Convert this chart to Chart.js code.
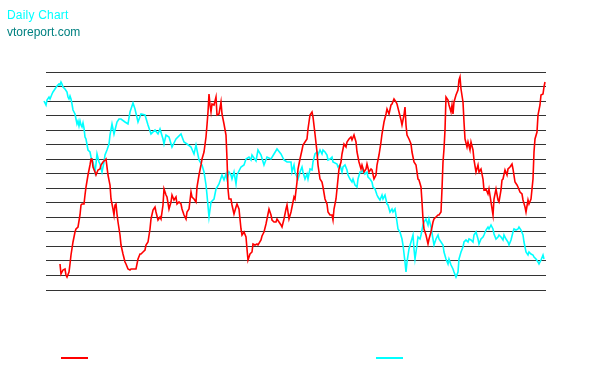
<!DOCTYPE html>
<html>
<head>
<meta charset="utf-8">
<script src="https://cdn.jsdelivr.net/npm/chart.js@4.4.0/dist/chart.umd.min.js"></script>
<style>
  html, body { margin: 0; padding: 0; background: #ffffff; }
  #wrap { position: relative; width: 594px; height: 380px; overflow: hidden; }
  #c { position: absolute; left: 0; top: 0; }
  .t { position: absolute; font-family: "Liberation Sans", Arial, sans-serif; font-size: 12px; line-height: 14px; white-space: nowrap; }
  .sw { position: absolute; height: 2px; width: 27px; }
</style>
</head>
<body>
<div id="wrap">
  <canvas id="c" width="594" height="380"></canvas>
  <div class="t" style="left:7px; top:8px; color:#00ffff; letter-spacing:0.2px;">Daily Chart</div>
  <div class="t" style="left:7px; top:25px; color:#008080;">vtoreport.com</div>
  <div class="sw" style="left:61px; top:357px; background:#ff0000;"></div>
  <div class="sw" style="left:376px; top:357px; background:#00ffff;"></div>
</div>
<script>
// ---- data (day index, level) ----
const cyanDays = [0,1,2,4,5,7,8,10,11,13,15,17,18,19,20,21,23,25,26,27,28,29,30,31,33,34,35,36,37,38,39,40,41,42,43,44,46,48,49,51,53,54,55,57,58,60,62,63,65,67,68,70,72,73,75,77,79,83,86,88,91,93,96,99,103,106,109,113,116,118,121,122,124,127,130,134,139,142,145,149,152,154,157,160,162,164,165,167,169,172,174,177,180,182,184,185,187,189,190,192,194,195,199,202,204,207,209,210,214,216,219,222,225,229,232,235,239,242,245,249,250,252,253,255,256,258,260,261,263,265,266,268,270,271,273,275,276,278,280,281,283,285,286,288,290,291,295,296,298,300,301,303,305,306,308,310,311,313,315,316,318,320,321,323,325,326,328,330,331,333,335,336,338,340,341,343,345,346,348,350,351,353,355,356,358,360,361,363,364,365,367,369,371,372,373,375,376,378,379,381,382,384,386,387,389,391,392,394,396,397,399,401,402,404,406,407,409,411,412,414,416,417,419,421,422,424,426,427,429,431,432,434,436,437,439,441,442,444,446,447,449,451,452,454,456,457,459,461,462,464,466,467,469,471,472,474,476,477,479,481,482,484,486,487,489,491,492,494,496,497,499,501,502];
const cyanValues = [178,199,189,185,190,193,191,196,198,201,204,206,205,208,206,203,201,198,193,191,194,191,186,180,176,171,166,169,164,169,165,163,167,162,153,151,140,138,133,128,118,126,136,128,126,118,128,135,140,146,155,166,156,160,168,171,171,168,166,178,187,181,168,176,175,165,156,160,156,161,151,146,155,153,143,151,156,148,146,143,136,145,130,125,118,105,95,73,88,91,101,106,115,110,116,111,118,115,111,118,106,115,123,125,131,133,130,135,129,140,135,125,133,131,136,141,136,130,128,128,118,125,118,113,111,118,123,118,111,116,111,121,120,128,136,138,135,140,136,140,138,135,130,131,133,128,126,123,125,118,123,125,120,115,111,108,111,105,103,111,118,118,121,116,118,113,111,108,103,101,95,93,90,95,91,95,86,85,78,81,78,81,68,61,58,51,45,28,18,28,41,48,55,41,31,45,53,51,55,65,68,71,65,71,63,51,45,51,55,51,48,45,38,31,26,31,25,21,18,13,18,31,38,43,48,50,48,51,50,48,55,58,51,46,51,53,55,60,63,61,65,61,56,51,53,55,53,50,55,51,48,45,50,58,61,60,61,63,60,55,48,38,35,38,36,35,33,31,28,26,30,35,31];

const redDays = [18,19,21,23,24,25,27,28,29,31,33,34,36,38,39,40,42,43,44,46,48,49,50,51,53,54,56,58,59,61,63,64,66,68,69,71,72,73,74,75,76,78,79,81,83,84,86,88,89,91,93,94,96,98,99,101,103,104,106,108,109,111,113,114,116,118,119,121,122,124,125,127,129,130,132,134,135,137,139,140,142,144,145,147,149,150,152,154,155,157,159,160,162,164,165,166,167,168,169,170,172,174,175,177,179,180,182,184,185,186,187,189,190,192,194,195,197,198,199,200,202,204,205,206,208,210,211,213,215,216,219,220,222,224,225,227,229,230,232,234,235,237,239,240,242,244,245,247,249,250,252,253,255,256,258,260,261,263,265,266,268,270,271,273,275,276,278,280,281,283,285,286,288,290,291,292,294,295,297,299,300,302,304,305,307,309,310,312,314,315,317,319,320,322,324,325,327,329,330,332,334,335,337,339,340,342,344,345,347,349,350,352,354,355,357,359,360,362,363,364,365,367,369,370,372,374,376,377,379,380,381,382,384,386,387,389,391,392,394,396,397,399,400,401,402,403,404,406,407,409,410,411,412,414,416,417,418,419,421,422,423,425,426,428,429,431,432,434,436,437,439,441,442,444,446,447,449,451,452,454,456,457,459,460,461,463,465,466,468,470,471,473,475,476,478,480,481,483,484,486,487,489,491,492,493,495,496,498,499,501,502,503];
const redValues = [26,16,20,21,15,13,18,26,35,48,58,61,63,75,85,86,86,95,103,115,125,131,131,123,118,115,120,121,125,128,130,131,115,105,91,81,75,85,86,76,68,55,45,36,28,26,21,20,21,21,21,21,31,36,36,38,40,45,48,61,71,80,83,78,70,73,71,85,101,95,93,81,88,95,90,93,86,88,86,81,75,71,78,81,98,93,91,88,103,115,125,131,138,153,165,178,196,185,178,186,185,193,175,176,188,176,166,155,131,101,91,91,85,76,83,86,81,71,61,55,58,53,41,30,36,38,46,45,46,45,50,54,58,66,71,81,75,70,68,68,71,68,65,63,71,81,85,71,78,83,93,91,108,121,131,140,145,148,151,161,175,178,173,156,138,125,111,108,103,91,86,78,75,75,70,81,91,101,121,128,136,146,143,148,151,153,150,155,148,138,128,121,125,118,121,126,118,121,120,111,115,125,135,148,156,168,176,181,176,185,186,191,188,186,178,170,165,175,183,165,155,151,146,138,128,125,111,110,103,88,71,61,55,46,51,58,68,71,73,75,75,78,101,128,141,160,193,190,185,178,185,176,188,195,200,210,213,201,188,168,151,143,148,140,148,140,130,118,125,118,121,111,100,101,96,101,88,75,91,101,90,88,100,110,111,120,115,121,123,126,121,108,105,103,98,96,90,83,78,90,86,91,111,138,151,158,175,185,195,196,203,208];

// horizontal rule levels (16 rules, evenly spaced)
const levelMax = 218;
const ruleCount = 15;
const gridLevels = Array.from({length: ruleCount + 1}, (_, i) => i * levelMax / ruleCount);

const dayMin = 4, dayMax = 504;

function pairs(days, vals) {
  const n = Math.min(days.length, vals.length);
  const out = [];
  for (let i = 0; i < n; i++) out.push({x: days[i], y: vals[i]});
  return out;
}

new Chart(document.getElementById('c'), {
  type: 'line',
  data: {
    datasets: [
      { label: 'red', data: pairs(redDays, redValues), borderColor: '#ff0000', borderWidth: 1.6,
        pointRadius: 0, tension: 0, fill: false, clip: false },
      { label: 'cyan', data: pairs(cyanDays, cyanValues), borderColor: '#00ffff', borderWidth: 1.6,
        pointRadius: 0, tension: 0, fill: false, clip: false }
    ]
  },
  options: {
    responsive: false,
    animation: false,
    devicePixelRatio: 1,
    layout: { padding: { left: 46, right: 48, top: 72, bottom: 90 } },
    plugins: { legend: { display: false }, tooltip: { enabled: false }, title: { display: false } },
    scales: {
      x: { type: 'linear', min: dayMin, max: dayMax, display: false },
      y: {
        min: 0, max: levelMax,
        ticks: { display: false },
        grid: { color: '#333333', lineWidth: 1, drawTicks: false },
        border: { display: false },
        afterBuildTicks: s => { s.ticks = gridLevels.map(v => ({ value: v })); },
        afterFit: s => { s.width = 0; }
      }
    }
  }
});
</script>
</body>
</html>
